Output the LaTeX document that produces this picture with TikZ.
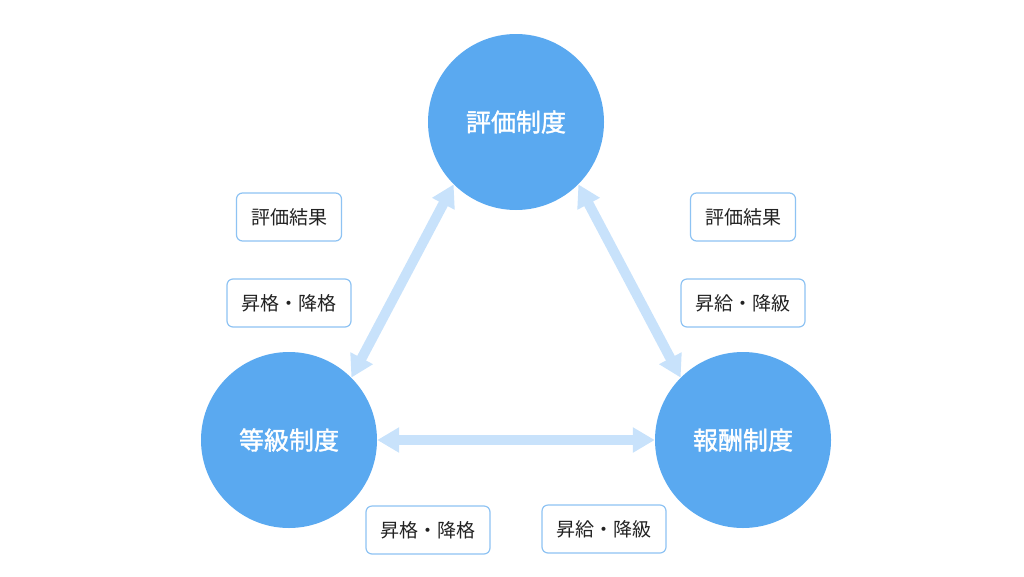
\documentclass[tikz,border=0pt]{standalone}
\usepackage{fontspec}
\newfontfamily\jp{Noto Sans CJK JP}
\newfontfamily\jpmed{Noto Sans CJK JP}[FakeBold=1.5]
\usetikzlibrary{arrows.meta}
\definecolor{circblue}{HTML}{5AA9F0}
\definecolor{arrowblue}{HTML}{C8E2FB}
\definecolor{boxblue}{HTML}{8EC3F3}
\definecolor{boxtext}{HTML}{222222}
\tikzset{
 sysnode/.style={circle,fill=circblue,minimum size=176pt,inner sep=0pt,text=white,font=\jpmed\fontsize{25}{30}\selectfont},
 labelbox/.style={draw=boxblue,line width=1.2pt,rounded corners=6pt,fill=white,minimum height=48pt,inner xsep=14.5pt,text=boxtext,font=\jp\fontsize{19}{23}\selectfont},
 link/.style={arrowblue,line width=10pt,{Triangle[width=24pt,length=22pt]}-{Triangle[width=24pt,length=22pt]}}
}
\begin{document}
\begin{tikzpicture}[x=1pt,y=-1pt]
 \useasboundingbox (0,0) rectangle (1024,576);
 \node[sysnode] (eval) at (516,122) {評価制度};
 \node[sysnode] (grade) at (289,440) {等級制度};
 \node[sysnode] (pay) at (743,440) {報酬制度};
 \draw[link] (eval.225) -- (grade.45);
 \draw[link] (eval.-45) -- (pay.135);
 \draw[link] (grade.east) -- (pay.west);
 \node[labelbox] (evalresl) at (289,217) {評価結果};
 \node[labelbox] (gradeupl) at (289,303) {昇格・降格};
 \node[labelbox] (evalresr) at (743,217) {評価結果};
 \node[labelbox] (payupr) at (743,303) {昇給・降級};
 \node[labelbox] (gradeupb) at (428,530) {昇格・降格};
 \node[labelbox] (payupb) at (604,529) {昇給・降級};
\end{tikzpicture}
\end{document}
